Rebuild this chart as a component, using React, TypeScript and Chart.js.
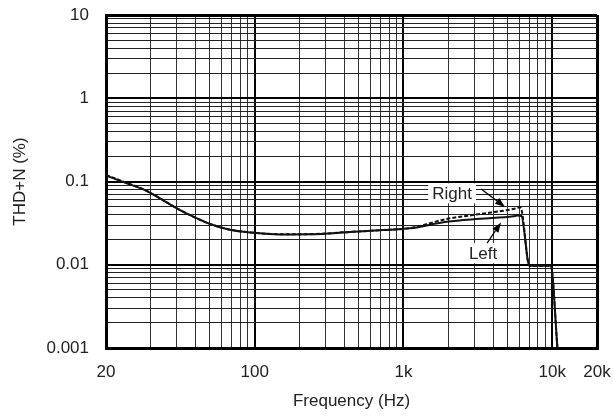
import React, { useEffect, useRef } from "react";
import { Chart, registerables } from "chart.js";

Chart.register(...registerables);

// ---- data (x in axis units of the printed frequency scale, y in %) ----
const freqLeft = [10, 13.8, 17.8, 23.1, 29.9, 38.6, 50, 64.8, 83.8, 108, 156, 235, 437, 733, 1107, 1954, 3273, 5483, 5800, 6200, 7030, 9780, 10840];
const thdLeft = [0.118, 0.095, 0.0805, 0.0628, 0.0477, 0.0378, 0.0309, 0.0269, 0.0249, 0.0239, 0.0231, 0.0232, 0.0247, 0.0261, 0.0274, 0.0329, 0.0357, 0.0382, 0.039, 0.0385, 0.0097, 0.0097, 0.001];

const freqRight = [10, 13.8, 17.8, 23.1, 29.9, 38.6, 50, 64.8, 83.8, 108, 156, 235, 437, 733, 1107, 1954, 3273, 5483, 6085, 6250, 7030, 9780, 10840];
const thdRight = [0.12, 0.096, 0.081, 0.0628, 0.0477, 0.0378, 0.0309, 0.0269, 0.0249, 0.0239, 0.0232, 0.0233, 0.0248, 0.0262, 0.0276, 0.0355, 0.0407, 0.0468, 0.049, 0.044, 0.0097, 0.0097, 0.001];

// ---- axes ----
const xGridValues = [10, 20, 30, 40, 50, 60, 70, 80, 90, 100, 200, 300, 400, 500, 600, 700, 800, 900, 1000, 2000, 3000, 4000, 5000, 6000, 7000, 8000, 9000, 10000, 20000];
const xMajorValues = [10, 100, 1000, 10000, 20000];
const xTickLabels = ["20", "100", "1k", "10k", "20k"];

const yGridValues = [0.001, 0.002, 0.003, 0.004, 0.005, 0.006, 0.007, 0.008, 0.009, 0.01, 0.02, 0.03, 0.04, 0.05, 0.06, 0.07, 0.08, 0.09, 0.1, 0.2, 0.3, 0.4, 0.5, 0.6, 0.7, 0.8, 0.9, 1, 2, 3, 4, 5, 6, 7, 8, 9, 10];
const yMajorValues = [0.001, 0.01, 0.1, 1, 10];
const yTickLabels = ["0.001", "0.01", "0.1", "1", "10"];

// ---- annotations (data coordinates) ----
const annotationTexts = ["Right", "Left"];
const annotationTextX = [2123, 3428];
const annotationTextY = [0.0721, 0.0138];
const arrowFromX = [3327, 3648];
const arrowFromY = [0.0813, 0.0182];
const arrowToX = [4820, 4529];
const arrowToY = [0.0494, 0.0322];

const FONT_FAMILY = '"Liberation Sans", Arial, Helvetica, sans-serif';
const TEXT_COLOR = "#222";

const near = (a: number, b: number) => Math.abs(a - b) <= Math.abs(b) * 1e-6;
const majorIndex = (arr: number[], v: number) => arr.findIndex((m) => near(v, m));

const annotationPlugin = {
  id: "thdAnnotations",
  afterDatasetsDraw(chart: any) {
    const { ctx, scales } = chart;
    const xs = scales.x;
    const ys = scales.y;
    ctx.save();
    ctx.font = `17px ${FONT_FAMILY}`;
    ctx.textAlign = "center";
    ctx.textBaseline = "middle";
    annotationTexts.forEach((text, i) => {
      const cx = xs.getPixelForValue(annotationTextX[i]);
      const cy = ys.getPixelForValue(annotationTextY[i]);
      const w = ctx.measureText(text).width;
      ctx.fillStyle = "#fff";
      ctx.fillRect(cx - w / 2 - 4, cy - 10, w + 8, 20);
      ctx.fillStyle = TEXT_COLOR;
      ctx.fillText(text, cx, cy + 1);

      const x1 = xs.getPixelForValue(arrowFromX[i]);
      const y1 = ys.getPixelForValue(arrowFromY[i]);
      const x2 = xs.getPixelForValue(arrowToX[i]);
      const y2 = ys.getPixelForValue(arrowToY[i]);
      const ang = Math.atan2(y2 - y1, x2 - x1);
      const headLen = 10;
      const headW = 3.6;
      const bx = x2 - headLen * Math.cos(ang);
      const by = y2 - headLen * Math.sin(ang);
      ctx.strokeStyle = "#000";
      ctx.lineWidth = 1.3;
      ctx.beginPath();
      ctx.moveTo(x1, y1);
      ctx.lineTo(bx, by);
      ctx.stroke();
      ctx.fillStyle = "#000";
      ctx.beginPath();
      ctx.moveTo(x2, y2);
      ctx.lineTo(bx + headW * Math.sin(ang), by - headW * Math.cos(ang));
      ctx.lineTo(bx - headW * Math.sin(ang), by + headW * Math.cos(ang));
      ctx.closePath();
      ctx.fill();
    });
    ctx.restore();
  },
};

export default function App() {
  const canvasRef = useRef<HTMLCanvasElement | null>(null);

  useEffect(() => {
    document.body.style.margin = "0";
    const canvas = canvasRef.current;
    if (!canvas) return;
    const font = { family: FONT_FAMILY, size: 17, lineHeight: 1.2 };

    const chart = new Chart(canvas, {
      type: "line",
      data: {
        datasets: [
          {
            label: "Left",
            data: freqLeft.map((f, i) => ({ x: f, y: thdLeft[i] })),
            borderColor: "#111",
            borderWidth: 2,
            pointRadius: 0,
            cubicInterpolationMode: "monotone",
            fill: false,
          },
          {
            label: "Right",
            data: freqRight.map((f, i) => ({ x: f, y: thdRight[i] })),
            borderColor: "#111",
            borderWidth: 2,
            borderDash: [4, 2],
            pointRadius: 0,
            cubicInterpolationMode: "monotone",
            fill: false,
          },
        ],
      },
      options: {
        animation: false,
        responsive: false,
        maintainAspectRatio: false,
        layout: { padding: { top: 15, right: 16, left: 0, bottom: 0 } },
        plugins: { legend: { display: false }, tooltip: { enabled: false } },
        scales: {
          x: {
            type: "logarithmic",
            min: 10,
            max: 20000,
            afterBuildTicks: (s: any) => {
              s.ticks = xGridValues.map((v) => ({ value: v }));
            },
            afterFit: (s: any) => {
              s.height = 68;
              s.paddingLeft = 0;
              s.paddingRight = 0;
            },
            ticks: {
              autoSkip: false,
              maxRotation: 0,
              minRotation: 0,
              padding: 14,
              font,
              color: TEXT_COLOR,
              callback: (v: any) => {
                const k = majorIndex(xMajorValues, Number(v));
                return k >= 0 ? xTickLabels[k] : "";
              },
            },
            grid: {
              drawTicks: false,
              color: (c: any) => (majorIndex(xMajorValues, c.tick?.value) >= 0 ? "#000" : "#333"),
              lineWidth: (c: any) => {
                const v = c.tick?.value;
                if (near(v, 10) || near(v, 20000)) return 3;
                return majorIndex(xMajorValues, v) >= 0 ? 2 : 1;
              },
            },
            border: { display: true, width: 3, color: "#000" },
            title: {
              display: true,
              text: "Frequency (Hz)",
              font,
              color: TEXT_COLOR,
              padding: { top: 0, bottom: 4 },
            },
          },
          y: {
            type: "logarithmic",
            min: 0.001,
            max: 10,
            afterBuildTicks: (s: any) => {
              s.ticks = yGridValues.map((v) => ({ value: v }));
            },
            afterFit: (s: any) => {
              s.width = 106;
              s.paddingTop = 0;
              s.paddingBottom = 0;
            },
            ticks: {
              autoSkip: false,
              padding: 17,
              font,
              color: TEXT_COLOR,
              callback: (v: any) => {
                const k = majorIndex(yMajorValues, Number(v));
                return k >= 0 ? yTickLabels[k] : "";
              },
            },
            grid: {
              drawTicks: false,
              color: (c: any) => (majorIndex(yMajorValues, c.tick?.value) >= 0 ? "#000" : "#222"),
              lineWidth: (c: any) => {
                const v = c.tick?.value;
                if (near(v, 10) || near(v, 0.001)) return 3;
                return majorIndex(yMajorValues, v) >= 0 ? 2 : 1;
              },
            },
            border: { display: true, width: 3, color: "#000" },
            title: {
              display: true,
              text: "THD+N (%)",
              font,
              color: TEXT_COLOR,
              padding: { top: 10, bottom: 0 },
            },
          },
        },
      } as any,
      plugins: [annotationPlugin],
    });
    return () => chart.destroy();
  }, []);

  return (
    <div style={{ width: 613, height: 416, background: "#fff" }}>
      <canvas ref={canvasRef} width={613} height={416} style={{ width: 613, height: 416, display: "block" }} />
    </div>
  );
}
